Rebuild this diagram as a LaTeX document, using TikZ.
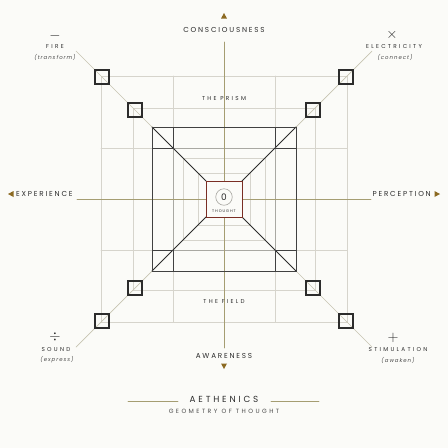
\documentclass[tikz,border=0pt]{standalone}
\usepackage{fontspec}
\setmainfont{Poppins}
\newfontfamily\capsfont[LetterSpace=25]{Poppins}
\newfontfamily\widefont[LetterSpace=40]{Poppins}
\newfontfamily\titlefont[LetterSpace=32]{Poppins}
\newfontfamily\notefont[LetterSpace=18]{Poppins}
\usetikzlibrary{calc,positioning}
\definecolor{paper}{HTML}{FBFBF8}
\definecolor{gridgrey}{HTML}{D6D4CC}
\definecolor{midgrey}{HTML}{A9A8A2}
\definecolor{axisolive}{HTML}{A59D72}
\definecolor{tipgold}{HTML}{8C6A22}
\definecolor{inkdark}{HTML}{2C2C2C}
\definecolor{thoughtred}{HTML}{7A2E24}

\begin{document}
\begin{tikzpicture}[x=1pt,y=-1pt,line cap=round,
    grid/.style={draw=gridgrey,line width=0.8pt},
    axis/.style={draw=axisolive,line width=0.6pt},
    ray/.style={draw=gridgrey!70!axisolive,line width=0.7pt},
    frame/.style={draw=inkdark!90,line width=0.9pt},
    marker/.style={draw=inkdark,line width=1.3pt,minimum size=14pt,inner sep=0pt},
    dirlabel/.style={font=\capsfont\fontsize{7.2}{8}\selectfont,text=inkdark,inner sep=0pt},
    smalllabel/.style={font=\widefont\fontsize{5.7}{6}\selectfont,text=inkdark,inner sep=0pt},
    notelabel/.style={font=\notefont\itshape\fontsize{5.4}{6}\selectfont,text=inkdark!85,inner sep=0pt},
    opsign/.style={font=\fontsize{15}{15}\selectfont,text=inkdark,inner sep=0pt}]
  % page and margins
  \fill[paper] (0,0) rectangle (448,448);
  \useasboundingbox (0,0) rectangle (448,448);
  \coordinate (C) at (224,199);

  % grey field grid
  \draw[grid] (101,76) rectangle (347,322);
  \draw[grid] (133,108) rectangle (315,290);
  \foreach \v in {173,275} {
    \draw[grid] (\v,76) -- (\v,322);
    \draw[grid] (101,\v-25) -- (347,\v-25);
  }
  % nested squares of the prism
  \foreach \h in {41,26}
    \draw[grid] (224-\h,199-\h) rectangle (224+\h,199+\h);
  \draw[draw=midgrey,line width=0.8pt] (173,148) rectangle (275,250);

  % axes
  \draw[axis] (224,42) -- (224,348);
  \draw[axis] (77,199) -- (371,199);

  % diagonals, markers and corner squares
  \foreach \sx/\sy/\name in {-1/-1/tl,1/-1/tr,-1/1/bl,1/1/br} {
    \coordinate (\name-end) at (224+148*\sx,199+148*\sy);
    \coordinate (\name-dark) at (224+72*\sx,199+72*\sy);
    \coordinate (\name-core) at (224+18*\sx,199+18*\sy);
    \draw[ray] (\name-end) -- (\name-dark);
    \node[marker] (\name-outer) at (224+122*\sx,199+122*\sy) {};
    \node[marker] (\name-inner) at (224+89*\sx,199+89*\sy) {};
    \draw[inkdark,line width=0.8pt] (\name-dark) -- (\name-core);
    \draw[frame] (\name-dark) rectangle (224+51*\sx,199+51*\sy);
  }
  \draw[frame] (tl-dark) rectangle (br-dark);

  % thought at the core
  \draw[draw=thoughtred,line width=1pt,fill=paper] (tl-core) rectangle (br-core);
  \node[draw=midgrey,line width=0.6pt,circle,minimum size=16.5pt,inner sep=0pt,
        font=\fontsize{9}{9}\selectfont,text=inkdark] (zero) at (224,197) {0};
  \node[font=\capsfont\fontsize{3.8}{4}\selectfont,text=inkdark,inner sep=0pt]
        (thought) at (224,211) {THOUGHT};

  % directions
  \node[dirlabel] (consc) at (224,30) {CONSCIOUSNESS};
  \node[dirlabel] (aware) at (224,356) {AWARENESS};
  \node[dirlabel,anchor=west] (exper) at (16,194) {EXPERIENCE};
  \node[dirlabel,anchor=east] (percep) at (431,194) {PERCEPTION};
  \fill[tipgold] (224,13) -- (227,18.5) -- (221,18.5) -- cycle;
  \fill[tipgold] (224,369) -- (227,363.5) -- (221,363.5) -- cycle;
  \fill[tipgold] (8,194) -- (13.5,191) -- (13.5,197) -- cycle;
  \fill[tipgold] (440,194) -- (434.5,191) -- (434.5,197) -- cycle;
  \node[smalllabel] (prism) at (224,99) {THE PRISM};
  \node[smalllabel] (field) at (224,302) {THE FIELD};

  % elements at the corners
  \node[opsign] (minus) at (55,36) {$-$};
  \node[smalllabel] (fire) at (55,47) {FIRE};
  \node[notelabel] at (55,57) {(transform)};
  \node[opsign] (times) at (392,35) {$\times$};
  \node[smalllabel] (elec) at (394,47) {ELECTRICITY};
  \node[notelabel] at (395,57) {(connect)};
  \node[opsign] (divide) at (55,337) {$\div$};
  \node[smalllabel] (sound) at (56,350) {SOUND};
  \node[notelabel] at (57,360) {(express)};
  \node[opsign] (plus) at (393,338) {$+$};
  \node[smalllabel] (stim) at (398,350) {STIMULATION};
  \node[notelabel] at (398,360) {(awaken)};

  % title
  \node[font=\titlefont\fontsize{8.8}{10}\selectfont,text=inkdark,inner sep=0pt]
        (title) at (224,399) {AETHENICS};
  \node[font=\widefont\fontsize{6.1}{7}\selectfont,text=inkdark!85,inner sep=0pt]
        (subtitle) at (224,411) {GEOMETRY OF THOUGHT};
  \coordinate (rule-l) at (128,401);
  \coordinate (rule-r) at (319,401);
  \draw[axis] (rule-l) -- ++(50,0);
  \draw[axis] (rule-r) -- ++(-48,0);
\end{tikzpicture}
\end{document}
